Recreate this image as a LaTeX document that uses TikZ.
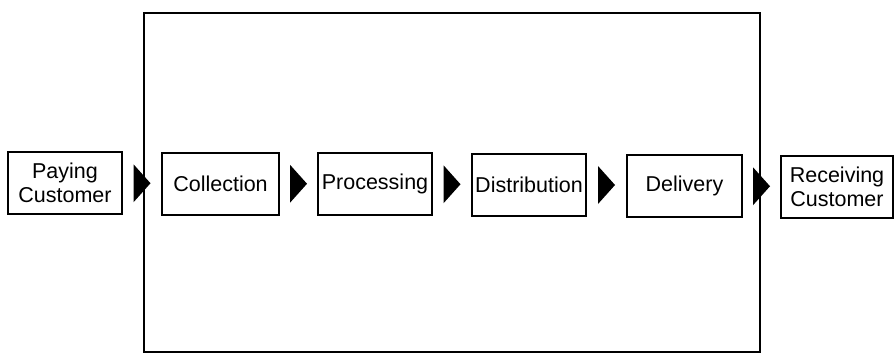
\documentclass[tikz,border=0pt]{standalone}
\usepackage{fontspec}
\setmainfont{Liberation Sans}
\usetikzlibrary{calc}
\tikzset{
  stagebox/.style={draw, line width=2pt, minimum height=62pt, inner sep=0pt,
    align=center, font=\fontsize{21.5}{24}\selectfont},
  flowtip/.pic={\fill (-8.5,-19) -- (8.5,0) -- (-8.5,19) -- cycle;}
}
\begin{document}
\begin{tikzpicture}[x=1pt, y=-1pt]
  \useasboundingbox (0,0) rectangle (895,354);
  % boundary of the service organisation
  \draw[line width=2pt] (144,13) rectangle (760,352);
  % stages of the flow
  \node[stagebox, minimum width=114pt] (pay)  at (65,183)    {Paying\\Customer};
  \node[stagebox, minimum width=117pt] (col)  at (220.5,183.5) {Collection};
  \node[stagebox, minimum width=114pt] (proc) at (375,184)   {Processing};
  \node[stagebox, minimum width=114pt] (dist) at (529,184.5) {Distribution};
  \node[stagebox, minimum width=115pt] (del)  at (684.5,185.5) {Delivery};
  \node[stagebox, minimum width=112pt] (rec)  at (837,187)   {Receiving\\Customer};
  % flow arrowheads between consecutive stages
  \foreach \a/\b in {pay/col, col/proc, proc/dist, dist/del, del/rec}
    \path ($(\a.east)!0.5!(\b.west)$) pic {flowtip};
\end{tikzpicture}
\end{document}
